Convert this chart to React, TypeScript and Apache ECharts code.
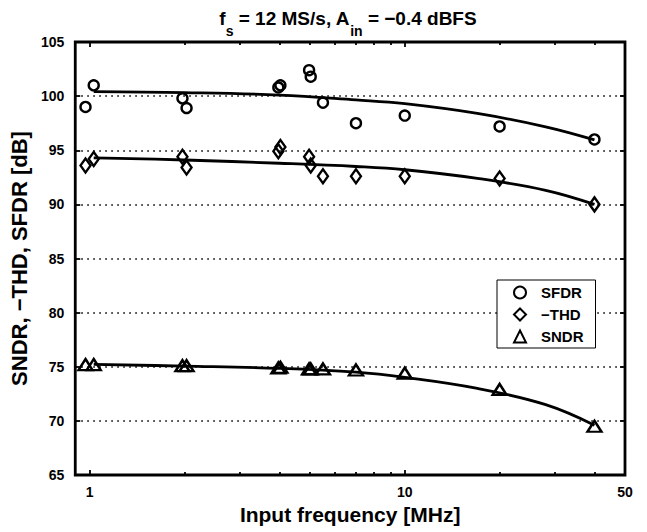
import React, { useEffect, useRef } from "react";
import * as echarts from "echarts";

const FONT = '"Liberation Sans", Arial, Helvetica, sans-serif';

// Measured points (input frequency in MHz)
const freqs = [0.97, 1.03, 1.97, 2.03, 3.97, 4.03, 4.97, 5.03, 5.5, 7, 10, 20, 40];
const sfdr = [99.0, 101.0, 99.8, 98.9, 100.8, 101.0, 102.4, 101.8, 99.4, 97.5, 98.2, 97.2, 96.0];
const thd = [93.6, 94.2, 94.4, 93.4, 94.9, 95.3, 94.4, 93.6, 92.6, 92.6, 92.6, 92.4, 90.0];
const sndr = [75.2, 75.2, 75.1, 75.1, 74.9, 74.95, 74.8, 74.8, 74.8, 74.7, 74.4, 72.9, 69.5];

// Fitted curves
const fitFreqs = [1.03, 2, 4, 7, 10, 17, 28, 40];
const sfdrFit = [100.42, 100.33, 100.1, 99.65, 99.3, 98.4, 97.16, 95.95];
const thdFit = [94.3, 94.1, 93.8, 93.5, 93.2, 92.4, 91.3, 90.0];
const sndrFit = [75.22, 75.06, 74.85, 74.5, 74.02, 73.0, 71.5, 69.6];

const xMajorTicks = [1, 10];
const xMinorTicks = [2, 3, 4, 5, 6, 7, 8, 9, 20, 30, 40];
const xTickLabels = [1, 10, 50];

const titleParts: [string, boolean][] = [
  ["f", false],
  ["s", true],
  [" = 12 MS/s, A", false],
  ["in", true],
  [" = \u22120.4 dBFS", false],
];

const pairs = (xs: number[], ys: number[]) => xs.map((x, i) => [x, ys[i]]);

export default function App() {
  const ref = useRef<HTMLDivElement>(null);
  useEffect(() => {
    if (!ref.current) return;
    const chart = echarts.init(ref.current, null, { renderer: "svg" });

    const canvas = document.createElement("canvas");
    const ctx = canvas.getContext("2d")!;
    const measure = (t: string, size: number) => {
      ctx.font = `bold ${size}px ${FONT}`;
      return ctx.measureText(t).width;
    };
    const mainSize = 19;
    const subSize = 14;
    const widths = titleParts.map(([t, sub]) => measure(t, sub ? subSize : mainSize));
    const total = widths.reduce((a, b) => a + b, 0);
    let cx = 348 - total / 2;
    const titleEls: any[] = [];
    titleParts.forEach(([t, sub], i) => {
      const size = sub ? subSize : mainSize;
      const trimmed = t.replace(/^ +/, "");
      const lead = measure(t.slice(0, t.length - trimmed.length), size);
      titleEls.push({
        type: "text",
        x: cx + lead,
        y: sub ? 30.5 : 18.5,
        style: {
          text: trimmed,
          fill: "#000",
          fontSize: size,
          fontWeight: "bold",
          fontFamily: FONT,
          align: "left",
          verticalAlign: "middle",
        },
      });
      cx += widths[i];
    });

    const baseX = {
      type: "log",
      logBase: 10,
      min: 0.9,
      max: 50,
      gridIndex: 0,
      splitLine: { show: false },
      axisLine: { show: false },
    };
    const markerStyle = { color: "transparent", borderColor: "#000", borderWidth: 2.4, opacity: 1 };

    chart.setOption({
      animation: false,
      backgroundColor: "#fff",
      textStyle: { fontFamily: FONT },
      grid: {
        left: 75,
        right: 22,
        top: 42,
        bottom: 57,
        show: true,
        borderColor: "#000",
        borderWidth: 2.8,
        backgroundColor: "#fff",
      },
      graphic: titleEls,
      legend: {
        data: ["SFDR", "\u2212THD", "SNDR"],
        orient: "vertical",
        left: 497,
        top: 280,
        padding: [5, 12, 4, 16],
        itemGap: 7,
        itemWidth: 12,
        itemHeight: 12,
        borderColor: "#000",
        borderWidth: 1,
        backgroundColor: "#fff",
        textStyle: { fontSize: 15, fontWeight: "bold", color: "#000", fontFamily: FONT, padding: [0, 0, 0, 10] },
      },
      xAxis: [
        {
          ...baseX,
          position: "bottom",
          name: "Input frequency [MHz]",
          nameLocation: "middle",
          nameGap: 29,
          nameTextStyle: { fontSize: 21, fontWeight: "bold", color: "#000", fontFamily: FONT },
          axisTick: { show: true, inside: true, length: 5, customValues: xMajorTicks, lineStyle: { color: "#000", width: 1.8 } },
          axisLabel: {
            show: true,
            customValues: xTickLabels,
            margin: 10,
            fontSize: 14,
            fontWeight: "bold",
            color: "#000",
            fontFamily: FONT,
            formatter: (v: number) => String(Math.round(v)),
          },
        },
        {
          ...baseX,
          position: "bottom",
          axisTick: { show: true, inside: true, length: 3, customValues: xMinorTicks, lineStyle: { color: "#000", width: 1.8 } },
          axisLabel: { show: false },
        },
        {
          ...baseX,
          position: "top",
          axisTick: { show: true, inside: true, length: 5, customValues: xMajorTicks, lineStyle: { color: "#000", width: 1.8 } },
          axisLabel: { show: false },
        },
        {
          ...baseX,
          position: "top",
          axisTick: { show: true, inside: true, length: 3, customValues: xMinorTicks, lineStyle: { color: "#000", width: 1.8 } },
          axisLabel: { show: false },
        },
      ],
      yAxis: [
        {
          type: "value",
          min: 65,
          max: 105,
          interval: 5,
          position: "left",
          name: "SNDR, \u2212THD, SFDR [dB]",
          nameLocation: "middle",
          nameGap: 40,
          nameTextStyle: { fontSize: 22, fontWeight: "bold", color: "#000", fontFamily: FONT },
          axisLine: { show: false },
          axisTick: { show: true, inside: true, length: 5, lineStyle: { color: "#000", width: 1.8 } },
          axisLabel: { fontSize: 14, fontWeight: "bold", color: "#000", margin: 11, fontFamily: FONT },
          splitLine: { show: true, lineStyle: { color: "#000", width: 1.6, type: [1.6, 4.4] } },
        },
        {
          type: "value",
          min: 65,
          max: 105,
          interval: 5,
          position: "right",
          axisLine: { show: false },
          axisTick: { show: true, inside: true, length: 5, lineStyle: { color: "#000", width: 1.8 } },
          axisLabel: { show: false },
          splitLine: { show: false },
        },
      ],
      series: [
        {
          name: "SFDR fit",
          type: "line",
          data: pairs(fitFreqs, sfdrFit),
          showSymbol: false,
          smooth: 0.4,
          lineStyle: { color: "#000", width: 2.8 },
          z: 2,
        },
        {
          name: "THD fit",
          type: "line",
          data: pairs(fitFreqs, thdFit),
          showSymbol: false,
          smooth: 0.4,
          lineStyle: { color: "#000", width: 2.8 },
          z: 2,
        },
        {
          name: "SNDR fit",
          type: "line",
          data: pairs(fitFreqs, sndrFit),
          showSymbol: false,
          smooth: 0.4,
          lineStyle: { color: "#000", width: 2.8 },
          z: 2,
        },
        {
          name: "SFDR",
          type: "scatter",
          symbol: "circle",
          symbolSize: 10,
          data: pairs(freqs, sfdr),
          itemStyle: markerStyle,
          z: 3,
        },
        {
          name: "\u2212THD",
          type: "scatter",
          symbol: "diamond",
          symbolSize: [10, 14],
          data: pairs(freqs, thd),
          itemStyle: markerStyle,
          z: 3,
        },
        {
          name: "SNDR",
          type: "scatter",
          symbol: "triangle",
          symbolSize: [14, 11],
          data: pairs(freqs, sndr),
          itemStyle: markerStyle,
          z: 3,
        },
      ],
    });
    return () => chart.dispose();
  }, []);
  return <div ref={ref} style={{ width: 647, height: 532, position: "absolute", left: 0, top: 0 }} />;
}
